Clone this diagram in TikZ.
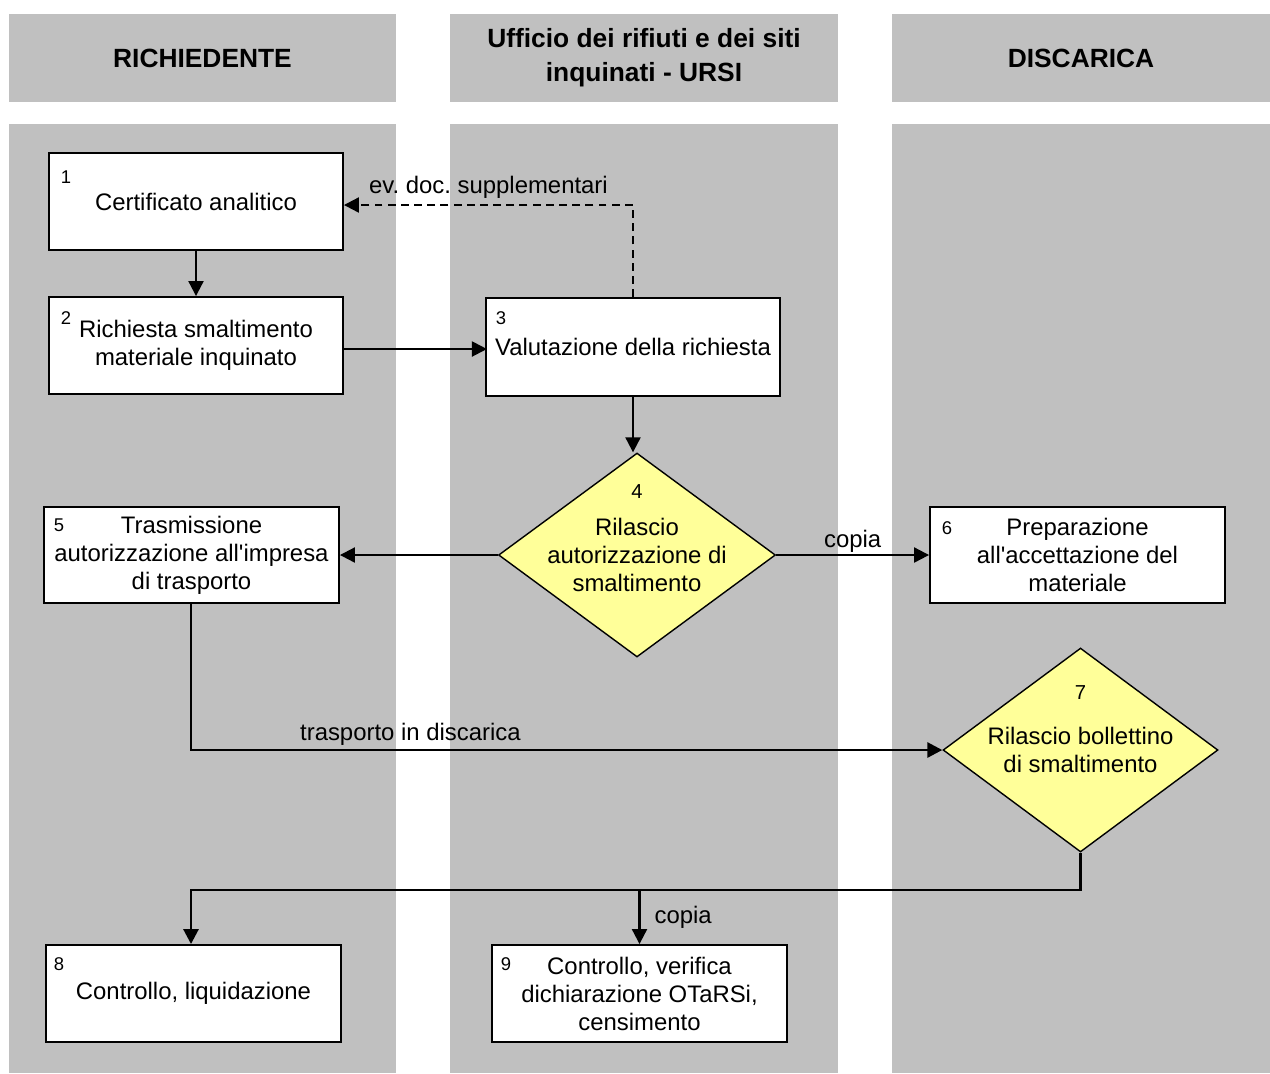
\documentclass[tikz,border=0pt]{standalone}
\usepackage{fontspec}
\setmainfont{Liberation Sans}
\usetikzlibrary{shapes.geometric,arrows.meta}

\definecolor{lanegray}{RGB}{192,192,192}
\definecolor{decyellow}{RGB}{255,255,153}

\tikzset{
	lane/.style = {fill=lanegray},
	head/.style = {fill=lanegray, minimum width=7.76cm, minimum height=1.76cm, align=center,
		font=\fontsize{15}{18.7}\selectfont\bfseries},
	stepbox/.style = {draw, line width=1.1pt, fill=white, minimum width=5.88cm, minimum height=1.94cm,
		align=center, inner sep=0pt, font=\fontsize{13.6}{15.9}\selectfont},
	dec/.style = {draw, diamond, line width=0.8pt, fill=decyellow, inner sep=0pt,
		minimum width=5.54cm, minimum height=4.08cm},
	dectext/.style = {align=center, inner sep=0pt, font=\fontsize{13.6}{15.9}\selectfont},
	numlab/.style = {inner sep=0pt, font=\fontsize{10.5}{12}\selectfont},
	txt/.style = {font=\fontsize{13.6}{15.9}\selectfont},
	flow/.style = {line width=1.2pt, -{Triangle[length=0.3cm,width=0.3cm]}},
	back/.style = {flow, dash pattern=on 4.5pt off 3pt},
}

\begin{document}
\frenchspacing
\begin{tikzpicture}[x=0.02cm, y=-0.02cm]
	\useasboundingbox (0,0) rectangle (1270,1073);
	
	% corsie
	\fill[lane] (9,124) rectangle (396,1073);
	\fill[lane] (450,124) rectangle (838,1073);
	\fill[lane] (892,124) rectangle (1270,1073);
	
	\node[head] (h1) at (202.5,58) {RICHIEDENTE};
	\node[head] (h2) at (644,58) {\raisebox{-3pt}{\begin{tabular}{@{}c@{}}Ufficio dei rifiuti e dei siti\\[0.4pt]inquinati - URSI\end{tabular}}};
	\node[head, minimum width=7.56cm] (h3) at (1081,58) {DISCARICA};
	
	% attivita
	\node[stepbox] (b1) at (196,201.5) {Certificato analitico};
	\node[stepbox] (b2) at (196,345.5) {\raisebox{-3pt}{\begin{tabular}{@{}c@{}}Richiesta smaltimento\\materiale inquinato\end{tabular}}};
	\node[stepbox, minimum height=1.96cm] (b3) at (633,347) {Valutazione della richiesta};
	\node[dec] (d4) at (637,555) {};
	\node[stepbox, minimum width=5.9cm, minimum height=1.92cm] (b5) at (191.5,555)
		{Trasmissione\\autorizzazione all\textquotesingle impresa\\di trasporto};
	\node[stepbox, minimum width=5.9cm, minimum height=1.92cm] (b6) at (1077.5,555)
		{Preparazione\\all\textquotesingle accettazione del\\materiale};
	\node[dec, minimum width=5.5cm] (d7) at (1080.5,750) {};
	\node[stepbox, minimum width=5.9cm] (b8) at (193.5,993.5) {Controllo, liquidazione};
	\node[stepbox, minimum width=5.9cm] (b9) at (639.5,993.5) {Controllo, verifica\\dichiarazione OTaRSi,\\censimento};
	
	\node[dectext] (t4) at (d4) {Rilascio\\autorizzazione di\\smaltimento};
	\node[dectext] (t7) at (d7) {Rilascio bollettino\\di smaltimento};
	
	% numeri
	\node[numlab] (n1) at ([shift={(0.36cm,-0.5cm)}]b1.north west) {1};
	\node[numlab] (n2) at ([shift={(0.36cm,-0.44cm)}]b2.north west) {2};
	\node[numlab] (n3) at ([shift={(0.32cm,-0.42cm)}]b3.north west) {3};
	\node[numlab] (n5) at ([shift={(0.32cm,-0.38cm)}]b5.north west) {5};
	\node[numlab] (n6) at ([shift={(0.36cm,-0.44cm)}]b6.north west) {6};
	\node[numlab] (n8) at ([shift={(0.28cm,-0.4cm)}]b8.north west) {8};
	\node[numlab] (n9) at ([shift={(0.3cm,-0.4cm)}]b9.north west) {9};
	\node[numlab, font=\fontsize{11.5}{13}\selectfont] (n4) at ([yshift=1.26cm]d4.center) {4};
	\node[numlab, font=\fontsize{11.5}{13}\selectfont] (n7) at ([yshift=1.14cm]d7.center) {7};
	
	% collegamenti
	\coordinate (c3) at (633,205);
	\coordinate (j7) at (d7.south |- 0,890);
	
	\draw[flow] (b1.south) -- (b2.north);
	\draw[flow] (b2.east) ++(0,3.5) -- ++(143,0);
	\draw[back] (b3.north) -- (c3) -- (c3 -| b1.east)
		node[txt, above, midway, inner sep=3pt] {ev. doc. supplementari};
	\draw[flow] (b3.south) -- (b3.south |- d4.north);
	\draw[flow] (d4.west) -- (b5.east);
	\draw[flow] (d4.east) -- (b6.west) node[txt, above, pos=0.5, inner sep=1pt] {copia};
	\draw[flow, line width=1.6pt] (b5.south -| 191,0) |- (d7.west)
		node[txt, above, pos=0.646, inner sep=2pt] {trasporto in discarica};
	\draw[flow, line width=1.6pt] (d7.south) -- (j7) -| (b8.north -| 191,0);
	\draw[flow] (b9.north |- j7) -- (b9.north) node[txt, right, midway, inner sep=8pt] {copia};
	
\end{tikzpicture}
\end{document}
